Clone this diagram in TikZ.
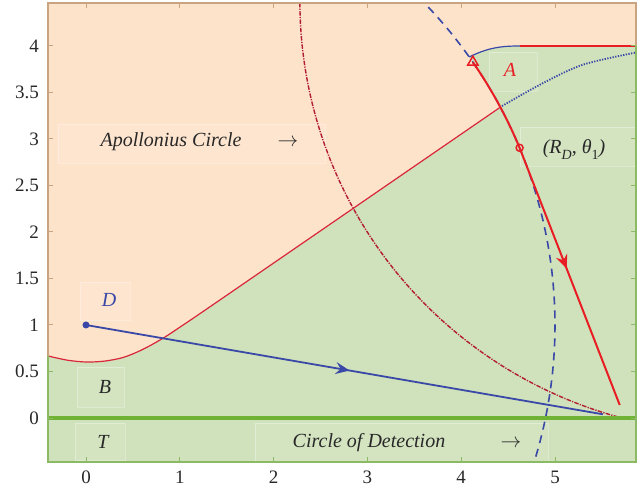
\documentclass[tikz,border=0pt]{standalone}
\usepackage{fontspec}
\setmainfont{Liberation Serif}
\usetikzlibrary{arrows.meta,decorations.markings,shapes.geometric}
\definecolor{peach}{RGB}{253,227,202}
\definecolor{leaf}{RGB}{208,226,187}
\definecolor{grline}{RGB}{112,178,52}
\definecolor{redb}{RGB}{218,38,58}
\definecolor{redt}{RGB}{232,30,36}
\definecolor{redd}{RGB}{178,28,52}
\definecolor{blu}{RGB}{58,72,168}
\definecolor{tanf}{RGB}{200,165,128}
\definecolor{frgreen}{RGB}{140,185,100}
\definecolor{txt}{RGB}{40,40,40}
\newcommand\subsc[1]{\raisebox{-0.28em}{\fontsize{14bp}{14bp}\selectfont #1}}
\begin{document}
\begin{tikzpicture}[x=93.8bp,y=93bp,
  lbox/.style={draw=white,draw opacity=0.3,fill=white,fill opacity=0.1,line width=0.7bp},
  lab/.style={font=\fontsize{20bp}{24bp}\selectfont\itshape, text=txt, inner sep=0pt, anchor=base},
  ticklab/.style={font=\fontsize{19bp}{22bp}\selectfont, text=txt, inner sep=0pt},
  midarrow/.style={postaction={decorate,decoration={markings,mark=at position #1 with {\arrow{Stealth[length=14bp,width=12bp,inset=5bp]}}}}}
]
\useasboundingbox (-86bp,-78bp) rectangle (556bp,418bp);
\coordinate (BL) at (-0.405,-0.473);
\coordinate (TR) at (5.864,4.462);
\coordinate (D) at (0,1);
\coordinate (E) at (5.51,0.04);
\coordinate (P) at ({5*cos(22.4)},{1+5*sin(22.4)});
\coordinate (S) at ({5*cos(34.42)},{1+5*sin(34.42)});
\coordinate (F) at (5.69,0.14);

% regions
\fill[peach] (BL) rectangle (TR);
\fill[leaf] (-0.405,-0.473) -- plot[smooth] coordinates {(-0.405,0.667) (-0.2,0.622) (0,0.602) (0.2,0.612) (0.4,0.652) (0.6,0.735) (0.82,0.857) (1.05,1.01) (1.3,1.181) (2.3,1.874) (3.35,2.602) (4.41,3.337)}
  -- plot[domain=27.9:35.2,variable=\t,samples=10] ({5*cos(\t)},{1+5*sin(\t)})
  .. controls (4.3,3.99) and (4.45,4.0) .. (4.63,4.0) -- (5.864,4) -- (5.864,-0.473) -- cycle;

% label boxes
\path[lbox] (-28bp,294bp) rectangle (239bp,255bp);
\path[lbox] (403bp,366bp) rectangle (451bp,327bp);
\path[lbox] (434bp,291bp) rectangle (550bp,252bp);
\path[lbox] (-6bp,136bp) rectangle (44bp,98bp);
\path[lbox] (-9bp,51bp) rectangle (38bp,11bp);
\path[lbox] (-11bp,-5bp) rectangle (39bp,-42bp);
\path[lbox] (169bp,-5bp) rectangle (462bp,-44bp);

% boundary curves
\draw[redb, line width=1.2bp] plot[smooth] coordinates {(-0.405,0.667) (-0.2,0.622) (0,0.602) (0.2,0.612) (0.4,0.652) (0.6,0.735) (0.82,0.857) (1.05,1.01) (1.3,1.181) (2.3,1.874) (3.35,2.602) (4.41,3.337)};
\draw[blu, line width=1.8bp, dash pattern=on 1.3bp off 1.4bp] plot[smooth] coordinates {(4.41,3.34) (4.87,3.60) (5.30,3.80) (5.864,3.93)};
\draw[blu, line width=1.2bp] (4.086,3.882) .. controls (4.3,3.99) and (4.45,4.0) .. (4.63,4.0);
\draw[redt, line width=1.3bp] (4.63,4) -- (5.864,4);

\begin{scope}
\clip (BL) rectangle (TR);
\draw[redd, line width=1.4bp, dash pattern=on 4.5bp off 1.3bp on 1.2bp off 1.3bp] plot[domain=178:255.2, samples=80, variable=\t] ({6.92+4.64*cos(\t)},{4.48+4.64*sin(\t)});
\draw[blu, line width=1.6bp, dash pattern=on 8bp off 6bp] plot[domain=50:-20, samples=90, variable=\t] ({5*cos(\t)},{1+5*sin(\t)});
\end{scope}

\draw[grline, line width=4bp] (-0.405,0) -- (5.864,0);

% trajectories
\draw[blu, line width=1.8bp, midarrow=0.51] (D) -- (E);
\draw[redt, line width=2bp] plot[domain=34.42:22.4, samples=20, variable=\t] ({5*cos(\t)},{1+5*sin(\t)});
\draw[redt, line width=2bp, midarrow=0.47] (P) -- (F);

% markers
\fill[blu] (D) circle[radius=3.5bp];
\node[draw=redt, line width=1.5bp, circle, minimum size=7bp, inner sep=0pt] (pt) at (P) {};
\node[draw=redt, line width=1.5bp, regular polygon, regular polygon sides=3, minimum size=12bp, inner sep=0pt] (tri) at (S) {};

% frame
\draw[tanf, line width=1.2bp] (-0.405,0.667) -- (-0.405,4.462) -- (5.864,4.462) -- (5.864,4);
\draw[frgreen, line width=1.2bp] (-0.405,0.667) -- (-0.405,-0.473) -- (5.864,-0.473) -- (5.864,4);
\foreach \k in {0,...,5} {
  \draw[frgreen, line width=1bp] (\k,-0.473) -- ++(0,5bp);
  \draw[tanf, line width=1bp] (\k,4.462) -- ++(0,-5bp);
  \node[ticklab, anchor=base, yshift=-65bp] (xl\k) at (\k,0) {\k};
}
\foreach \v in {1,1.5,2,2.5,3,3.5,4} {
  \draw[tanf, line width=1bp] (-0.405,\v) -- ++(5bp,0);
}
\foreach \v in {0,0.5} {
  \draw[frgreen, line width=1bp] (-0.405,\v) -- ++(5bp,0);
}
\foreach \v in {0,0.5,1,1.5,2,2.5,3,3.5,4} {
  \draw[frgreen, line width=1bp] (5.864,\v) -- ++(-5bp,0);
  \node[ticklab, anchor=east, xshift=-47bp] at (0,\v) {\v};
}

% labels
\node[lab] (apl) at (85bp,271bp) {Apollonius Circle};
\node[lab] (aplar) at (202bp,271bp) {$\rightarrow$};
\node[lab, text=redt] (lA) at (424bp,341bp) {A};
\node[lab] (rd) at (488bp,264bp) {(R\subsc{D}, θ\subsc{\upshape 1})};
\node[lab, text=blu] (lD) at (23bp,111bp) {D};
\node[lab] (lB) at (19bp,25bp) {B};
\node[lab] (lT) at (17bp,-30bp) {T};
\node[lab] (cod) at (283bp,-29bp) {Circle of Detection};
\node[lab] (codar) at (425bp,-29bp) {$\rightarrow$};
\end{tikzpicture}
\end{document}
